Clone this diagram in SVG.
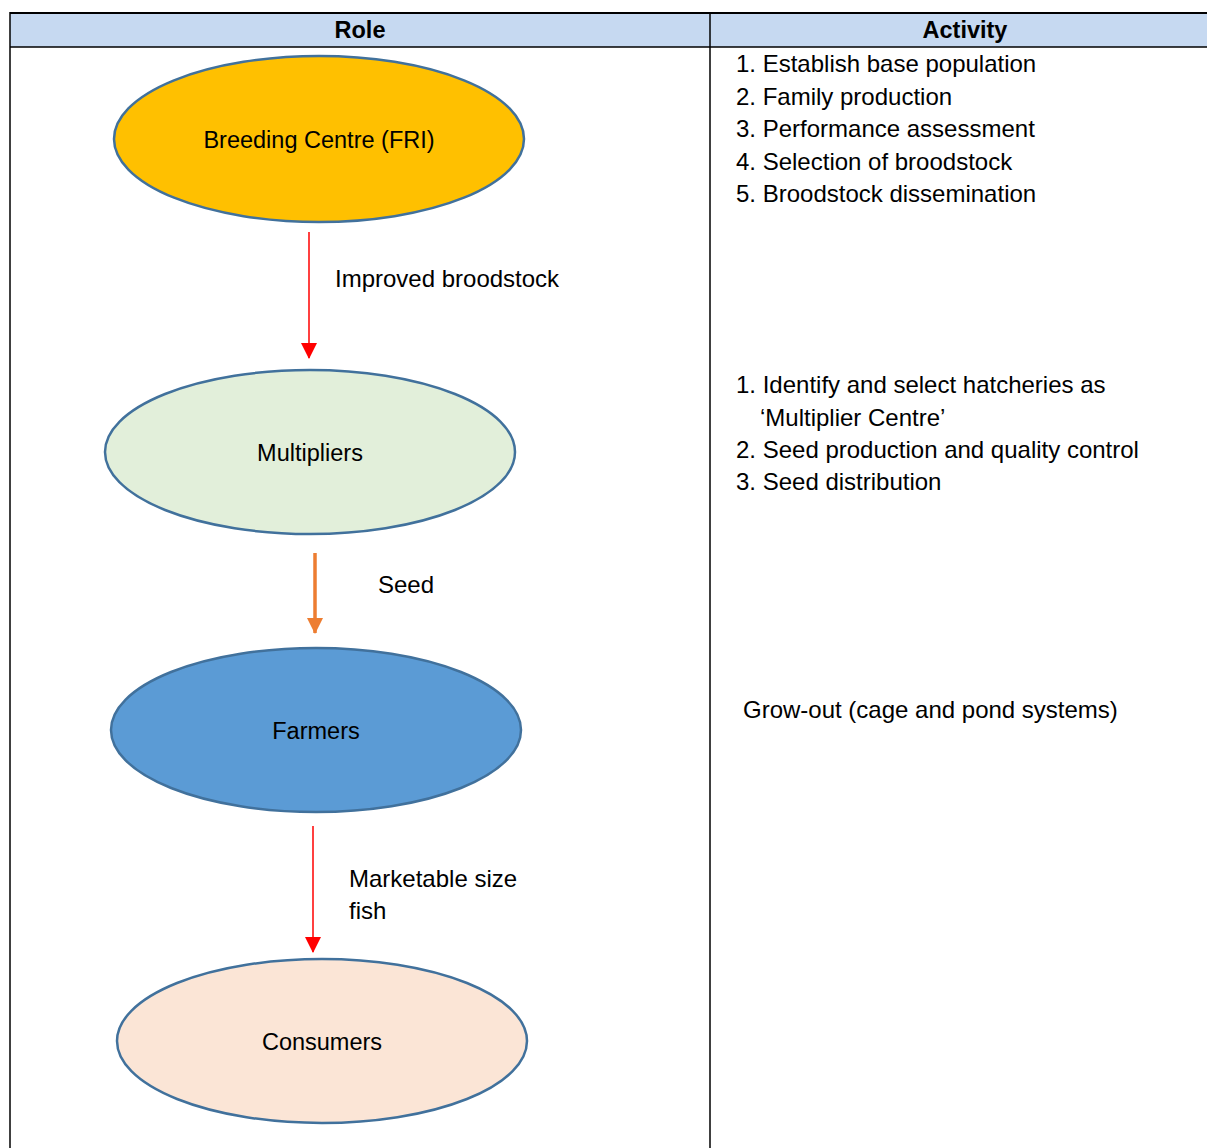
<svg xmlns="http://www.w3.org/2000/svg" width="1207" height="1148" viewBox="0 0 1207 1148">
<style>
text{font-family:"Liberation Sans",Arial,sans-serif;font-size:24px;fill:#000}
.h{font-weight:bold;text-anchor:middle;font-size:23.5px}
.c{text-anchor:middle;font-size:23.5px}
.el{stroke:#41719C;stroke-width:2.5}
</style>
<defs>
<marker id="ar" markerUnits="userSpaceOnUse" markerWidth="16" markerHeight="16" viewBox="0 0 16 16" refX="15" refY="8" orient="auto"><path d="M0,0 L16,8 L0,16 Z" fill="#FF0000"/></marker>
<marker id="ao" markerUnits="userSpaceOnUse" markerWidth="16" markerHeight="16" viewBox="0 0 16 16" refX="15" refY="8" orient="auto"><path d="M0,0 L16,8 L0,16 Z" fill="#ED7D31"/></marker>
</defs>
<rect width="1207" height="1148" fill="#fff"/>
<g id="table">
<rect x="10" y="13" width="1197" height="34" fill="#C6D9F1"/>
<line x1="10" y1="13" x2="1207" y2="13" stroke="#000" stroke-width="2"/>
<line x1="10" y1="47" x2="1207" y2="47" stroke="#000" stroke-width="1.5"/>
<line x1="10" y1="12" x2="10" y2="1148" stroke="#000" stroke-width="1.5"/>
<line x1="710" y1="12" x2="710" y2="1148" stroke="#000" stroke-width="1.5"/>
<text class="h" x="360" y="38">Role</text>
<text class="h" x="965" y="38">Activity</text>
</g>
<g id="activity1">
<text x="736" y="72">1. Establish base population</text>
<text x="736" y="105">2. Family production</text>
<text x="736" y="137">3. Performance assessment</text>
<text x="736" y="170">4. Selection of broodstock</text>
<text x="736" y="202">5. Broodstock dissemination</text>
</g>
<g id="activity2">
<text x="736" y="393">1. Identify and select hatcheries as</text>
<text x="760" y="426">‘Multiplier Centre’</text>
<text x="736" y="458">2. Seed production and quality control</text>
<text x="736" y="490">3. Seed distribution</text>
</g>
<g id="activity3">
<text x="743" y="718">Grow-out (cage and pond systems)</text>
</g>
<g id="breeding">
<ellipse class="el" cx="319" cy="139" rx="205" ry="83" fill="#FFC000"/>
<text class="c" x="319" y="148">Breeding Centre (FRI)</text>
</g>
<g id="multipliers">
<ellipse class="el" cx="310" cy="452" rx="205" ry="82" fill="#E2EFDA"/>
<text class="c" x="310" y="461">Multipliers</text>
</g>
<g id="farmers">
<ellipse class="el" cx="316" cy="730" rx="205" ry="82" fill="#5B9BD5"/>
<text class="c" x="316" y="739">Farmers</text>
</g>
<g id="consumers">
<ellipse class="el" cx="322" cy="1041" rx="205" ry="82" fill="#FBE5D6"/>
<text class="c" x="322" y="1050">Consumers</text>
</g>
<g id="connectors">
<line x1="309" y1="232" x2="309" y2="358" stroke="#FF0000" stroke-width="1.5" marker-end="url(#ar)"/>
<line x1="315" y1="553" x2="315" y2="633" stroke="#ED7D31" stroke-width="3.5" marker-end="url(#ao)"/>
<line x1="313" y1="826" x2="313" y2="952" stroke="#FF0000" stroke-width="1.5" marker-end="url(#ar)"/>
<text x="335" y="287">Improved broodstock</text>
<text x="378" y="593">Seed</text>
<text x="349" y="887">Marketable size</text>
<text x="349" y="919">fish</text>
</g>
</svg>
